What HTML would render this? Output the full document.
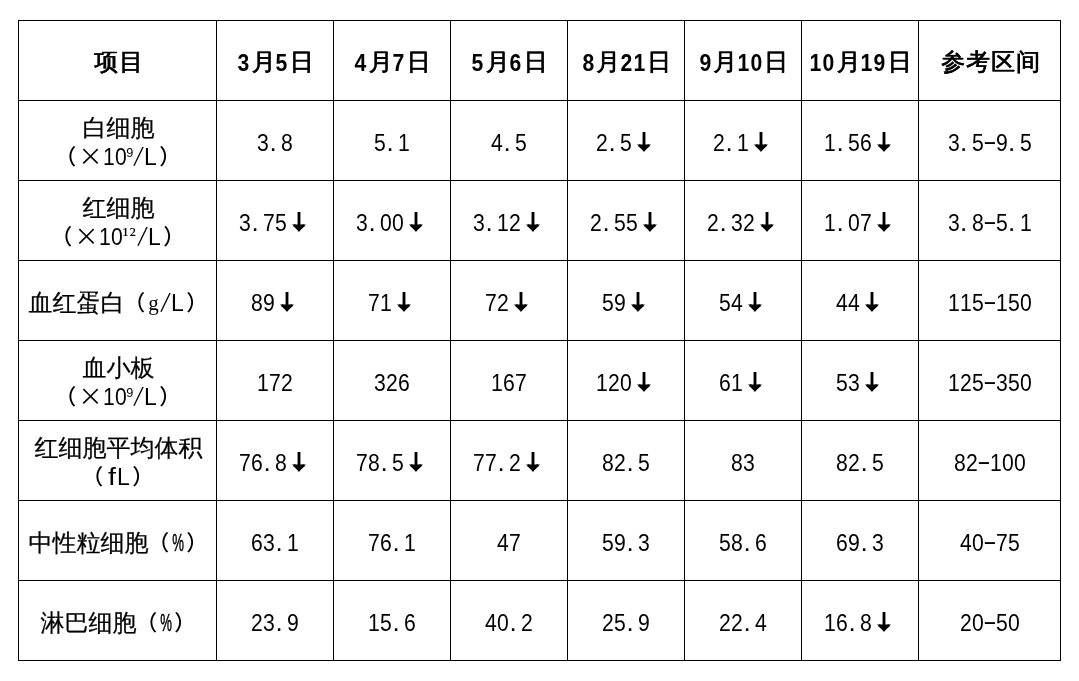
<!DOCTYPE html><html lang="zh-CN"><head><meta charset="utf-8"><title>血常规检查结果</title><style>
*{margin:0;padding:0;box-sizing:border-box}
html,body{width:1079px;height:681px;background:#fff;overflow:hidden}
body{position:relative;font-family:"WenQuanYi Zen Hei","Noto Sans CJK SC",sans-serif;font-size:24px;color:#000}
.c{position:absolute;border:1px solid #000}
.l{position:absolute;left:0;right:0;height:30px;line-height:30px;text-align:center;white-space:nowrap;-webkit-text-stroke:0.25px #000;will-change:transform}
i,u{font-style:normal;text-decoration:none;display:inline-flex;justify-content:center;line-height:0}
i{width:12px;font-family:"Liberation Sans",sans-serif;font-size:23px;-webkit-text-stroke:0}
i.d{transform:scaleX(0.92)}
i.g{font-family:"Liberation Serif",serif;font-size:21px;position:relative;top:-1.5px}
i.sl{font-family:"WenQuanYi Zen Hei",sans-serif;font-size:22px;position:relative;top:-3px}
i.p{justify-content:flex-start;padding-left:0.5px;font-size:26px}
i.s{width:6px;font-size:20px;vertical-align:3px;justify-content:flex-start;position:relative;left:-1px}
i.r{font-family:"Liberation Serif",serif;font-size:21px;left:0;width:7px}
i.a{position:relative;width:24px;font-family:"Noto Sans CJK SC",sans-serif;font-weight:900;font-size:24px;transform:scaleY(0.9);transform-origin:50% 80%}
i.a::after{content:'';position:absolute;left:5px;top:4px;width:0;height:0;border-top:7px solid #000;border-left:7px solid transparent;border-right:7px solid transparent}
i.f{transform:scaleX(1.25)}
i.m{transform:translateY(-2px) scaleX(1.8)}
i.pct{transform:scaleX(0.56);-webkit-text-stroke:0.5px #000;font-size:23.5px}
u{width:24px;font-family:"Noto Sans CJK SC",sans-serif;-webkit-text-stroke:0}
u.po,u.pc{font-size:21.5px;font-weight:500;top:-1px}
u.po{position:relative;left:-1px}
u.pc{position:relative;left:1.5px}
em{font-style:normal;position:relative;left:1px;top:-0.5px}
.b .l{-webkit-text-stroke:0.5px #000;text-shadow:0.6px 0 0 #000}
.b em{letter-spacing:1px;left:1.5px;top:-1px}
.b i{width:13px}
.b i{font-weight:bold;-webkit-text-stroke:0;text-shadow:none}

table{position:absolute;left:18px;top:20px;border-collapse:collapse;table-layout:fixed;width:1043px}
td,th{position:relative;border:1px solid #000;height:80px;padding:0;font-weight:normal}
tr{height:80px}
</style></head><body>
<table><colgroup><col style="width:198px"><col style="width:117px"><col style="width:117px"><col style="width:117px"><col style="width:117px"><col style="width:117px"><col style="width:117px"><col style="width:142px"></colgroup>
<thead><tr class="b"><th><div class="l" style="top:26.5px"><em>项目</em></div></th><th><div class="l" style="top:26.5px"><i class="d">3</i><em>月</em><i class="d">5</i><em>日</em></div></th><th><div class="l" style="top:26.5px"><i class="d">4</i><em>月</em><i class="d">7</i><em>日</em></div></th><th><div class="l" style="top:26.5px"><i class="d">5</i><em>月</em><i class="d">6</i><em>日</em></div></th><th><div class="l" style="top:26.5px"><i class="d">8</i><em>月</em><i class="d">2</i><i class="d">1</i><em>日</em></div></th><th><div class="l" style="top:26.5px"><i class="d">9</i><em>月</em><i class="d">1</i><i class="d">0</i><em>日</em></div></th><th><div class="l" style="top:26.5px"><i class="d">1</i><i class="d">0</i><em>月</em><i class="d">1</i><i class="d">9</i><em>日</em></div></th><th><div class="l" style="top:26.5px"><em>参考区间</em></div></th></tr></thead><tbody>
<tr><td><div class="l" style="top:11.5px"><em>白细胞</em></div><div class="l" style="top:40.5px"><u class="po">（</u><u class="x">×</u><i class="d">1</i><i class="d">0</i><i class="s">⁹</i><i class="sl">/</i><i class="L">L</i><u class="pc">）</u></div></td><td><div class="l" style="top:26.5px"><i class="d">3</i><i class="p">.</i><i class="d">8</i></div></td><td><div class="l" style="top:26.5px"><i class="d">5</i><i class="p">.</i><i class="d">1</i></div></td><td><div class="l" style="top:26.5px"><i class="d">4</i><i class="p">.</i><i class="d">5</i></div></td><td><div class="l" style="top:26.5px"><i class="d">2</i><i class="p">.</i><i class="d">5</i><i class="a">↓</i></div></td><td><div class="l" style="top:26.5px"><i class="d">2</i><i class="p">.</i><i class="d">1</i><i class="a">↓</i></div></td><td><div class="l" style="top:26.5px"><i class="d">1</i><i class="p">.</i><i class="d">5</i><i class="d">6</i><i class="a">↓</i></div></td><td><div class="l" style="top:26.5px"><i class="d">3</i><i class="p">.</i><i class="d">5</i><i class="m">-</i><i class="d">9</i><i class="p">.</i><i class="d">5</i></div></td></tr>
<tr><td><div class="l" style="top:11.5px"><em>红细胞</em></div><div class="l" style="top:40.5px"><u class="po">（</u><u class="x">×</u><i class="d">1</i><i class="d">0</i><i class="s r">¹</i><i class="s r">²</i><i class="sl">/</i><i class="L">L</i><u class="pc">）</u></div></td><td><div class="l" style="top:26.5px"><i class="d">3</i><i class="p">.</i><i class="d">7</i><i class="d">5</i><i class="a">↓</i></div></td><td><div class="l" style="top:26.5px"><i class="d">3</i><i class="p">.</i><i class="d">0</i><i class="d">0</i><i class="a">↓</i></div></td><td><div class="l" style="top:26.5px"><i class="d">3</i><i class="p">.</i><i class="d">1</i><i class="d">2</i><i class="a">↓</i></div></td><td><div class="l" style="top:26.5px"><i class="d">2</i><i class="p">.</i><i class="d">5</i><i class="d">5</i><i class="a">↓</i></div></td><td><div class="l" style="top:26.5px"><i class="d">2</i><i class="p">.</i><i class="d">3</i><i class="d">2</i><i class="a">↓</i></div></td><td><div class="l" style="top:26.5px"><i class="d">1</i><i class="p">.</i><i class="d">0</i><i class="d">7</i><i class="a">↓</i></div></td><td><div class="l" style="top:26.5px"><i class="d">3</i><i class="p">.</i><i class="d">8</i><i class="m">-</i><i class="d">5</i><i class="p">.</i><i class="d">1</i></div></td></tr>
<tr><td><div class="l" style="top:26.5px"><em>血红蛋白</em><u class="po">（</u><i class="g">g</i><i class="sl">/</i><i class="L">L</i><u class="pc">）</u></div></td><td><div class="l" style="top:26.5px"><i class="d">8</i><i class="d">9</i><i class="a">↓</i></div></td><td><div class="l" style="top:26.5px"><i class="d">7</i><i class="d">1</i><i class="a">↓</i></div></td><td><div class="l" style="top:26.5px"><i class="d">7</i><i class="d">2</i><i class="a">↓</i></div></td><td><div class="l" style="top:26.5px"><i class="d">5</i><i class="d">9</i><i class="a">↓</i></div></td><td><div class="l" style="top:26.5px"><i class="d">5</i><i class="d">4</i><i class="a">↓</i></div></td><td><div class="l" style="top:26.5px"><i class="d">4</i><i class="d">4</i><i class="a">↓</i></div></td><td><div class="l" style="top:26.5px"><i class="d">1</i><i class="d">1</i><i class="d">5</i><i class="m">-</i><i class="d">1</i><i class="d">5</i><i class="d">0</i></div></td></tr>
<tr><td><div class="l" style="top:11.5px"><em>血小板</em></div><div class="l" style="top:40.5px"><u class="po">（</u><u class="x">×</u><i class="d">1</i><i class="d">0</i><i class="s">⁹</i><i class="sl">/</i><i class="L">L</i><u class="pc">）</u></div></td><td><div class="l" style="top:26.5px"><i class="d">1</i><i class="d">7</i><i class="d">2</i></div></td><td><div class="l" style="top:26.5px"><i class="d">3</i><i class="d">2</i><i class="d">6</i></div></td><td><div class="l" style="top:26.5px"><i class="d">1</i><i class="d">6</i><i class="d">7</i></div></td><td><div class="l" style="top:26.5px"><i class="d">1</i><i class="d">2</i><i class="d">0</i><i class="a">↓</i></div></td><td><div class="l" style="top:26.5px"><i class="d">6</i><i class="d">1</i><i class="a">↓</i></div></td><td><div class="l" style="top:26.5px"><i class="d">5</i><i class="d">3</i><i class="a">↓</i></div></td><td><div class="l" style="top:26.5px"><i class="d">1</i><i class="d">2</i><i class="d">5</i><i class="m">-</i><i class="d">3</i><i class="d">5</i><i class="d">0</i></div></td></tr>
<tr><td><div class="l" style="top:11.5px"><em>红细胞平均体积</em></div><div class="l" style="top:40.5px"><u class="po">（</u><i class="f">f</i><i class="L">L</i><u class="pc">）</u></div></td><td><div class="l" style="top:26.5px"><i class="d">7</i><i class="d">6</i><i class="p">.</i><i class="d">8</i><i class="a">↓</i></div></td><td><div class="l" style="top:26.5px"><i class="d">7</i><i class="d">8</i><i class="p">.</i><i class="d">5</i><i class="a">↓</i></div></td><td><div class="l" style="top:26.5px"><i class="d">7</i><i class="d">7</i><i class="p">.</i><i class="d">2</i><i class="a">↓</i></div></td><td><div class="l" style="top:26.5px"><i class="d">8</i><i class="d">2</i><i class="p">.</i><i class="d">5</i></div></td><td><div class="l" style="top:26.5px"><i class="d">8</i><i class="d">3</i></div></td><td><div class="l" style="top:26.5px"><i class="d">8</i><i class="d">2</i><i class="p">.</i><i class="d">5</i></div></td><td><div class="l" style="top:26.5px"><i class="d">8</i><i class="d">2</i><i class="m">-</i><i class="d">1</i><i class="d">0</i><i class="d">0</i></div></td></tr>
<tr><td><div class="l" style="top:26.5px"><em>中性粒细胞</em><u class="po">（</u><i class="pct">%</i><u class="pc">）</u></div></td><td><div class="l" style="top:26.5px"><i class="d">6</i><i class="d">3</i><i class="p">.</i><i class="d">1</i></div></td><td><div class="l" style="top:26.5px"><i class="d">7</i><i class="d">6</i><i class="p">.</i><i class="d">1</i></div></td><td><div class="l" style="top:26.5px"><i class="d">4</i><i class="d">7</i></div></td><td><div class="l" style="top:26.5px"><i class="d">5</i><i class="d">9</i><i class="p">.</i><i class="d">3</i></div></td><td><div class="l" style="top:26.5px"><i class="d">5</i><i class="d">8</i><i class="p">.</i><i class="d">6</i></div></td><td><div class="l" style="top:26.5px"><i class="d">6</i><i class="d">9</i><i class="p">.</i><i class="d">3</i></div></td><td><div class="l" style="top:26.5px"><i class="d">4</i><i class="d">0</i><i class="m">-</i><i class="d">7</i><i class="d">5</i></div></td></tr>
<tr><td><div class="l" style="top:26.5px"><em>淋巴细胞</em><u class="po">（</u><i class="pct">%</i><u class="pc">）</u></div></td><td><div class="l" style="top:26.5px"><i class="d">2</i><i class="d">3</i><i class="p">.</i><i class="d">9</i></div></td><td><div class="l" style="top:26.5px"><i class="d">1</i><i class="d">5</i><i class="p">.</i><i class="d">6</i></div></td><td><div class="l" style="top:26.5px"><i class="d">4</i><i class="d">0</i><i class="p">.</i><i class="d">2</i></div></td><td><div class="l" style="top:26.5px"><i class="d">2</i><i class="d">5</i><i class="p">.</i><i class="d">9</i></div></td><td><div class="l" style="top:26.5px"><i class="d">2</i><i class="d">2</i><i class="p">.</i><i class="d">4</i></div></td><td><div class="l" style="top:26.5px"><i class="d">1</i><i class="d">6</i><i class="p">.</i><i class="d">8</i><i class="a">↓</i></div></td><td><div class="l" style="top:26.5px"><i class="d">2</i><i class="d">0</i><i class="m">-</i><i class="d">5</i><i class="d">0</i></div></td></tr>
</tbody></table></body></html>
